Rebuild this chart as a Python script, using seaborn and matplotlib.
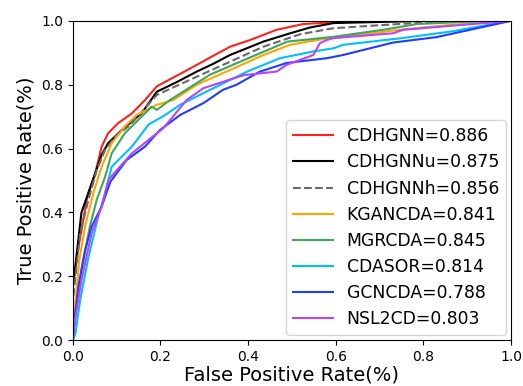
import numpy as np
import pandas as pd
import matplotlib
matplotlib.use("Agg")
import matplotlib.pyplot as plt
import seaborn as sns

# ROC curves (FPR, TPR)
labels = ["CDHGNN=0.886", "CDHGNNu=0.875", "CDHGNNh=0.856", "KGANCDA=0.841",
          "MGRCDA=0.845", "CDASOR=0.814", "GCNCDA=0.788", "NSL2CD=0.803"]

fpr_cdhgnn = [0, 0, .013, .032, .051, .066, .081, .104, .135, .165, .192, .24, .283, .32, .359, .405, .465, .526, .587, .65, 1.0]
tpr_cdhgnn = [0, .167, .29, .44, .52, .606, .648, .68, .71, .752, .795, .83, .862, .89, .919, .94, .972, .99, .995, 1.0, 1.0]

fpr_cdhgnnu = [0, 0, .02, .043, .066, .081, .112, .157, .192, .24, .283, .32, .359, .435, .496, .541, .595, .746, .8, 1]
tpr_cdhgnnu = [0, .16, .40, .49, .58, .617, .658, .71, .778, .81, .841, .865, .893, .935, .961, .979, .993, .998, 1, 1]

fpr_cdhgnnh = [0, 0, .017, .036, .055, .074, .097, .131, .192, .283, .359, .435, .519, .595, .709, .823, .9, 1]
tpr_cdhgnnh = [0, .12, .334, .44, .533, .596, .637, .674, .768, .825, .872, .919, .958, .977, .987, .997, 1, 1]

fpr_kgancda = [0, .005, .015, .028, .047, .066, .089, .119, .146, .192, .23, .283, .359, .435, .496, .557, .595, .746, .86, 1]
tpr_kgancda = [0, .1, .25, .355, .46, .543, .617, .669, .705, .737, .752, .80, .846, .893, .925, .94, .946, .972, .987, 1]

fpr_mgrcda = [0, .005, .02, .039, .055, .074, .089, .119, .161, .18, .192, .222, .313, .382, .49, .526, .595, .709, .785, .95, 1]
tpr_mgrcda = [0, .08, .22, .355, .44, .512, .585, .648, .705, .731, .721, .752, .831, .872, .935, .94, .95, .972, .99, 1, 1]

fpr_cdasor = [0, .006, .017, .036, .058, .074, .089, .097, .135, .173, .211, .245, .321, .398, .473, .549, .595, .617, .746, .86, 1]
tpr_cdasor = [0, .02, .125, .26, .386, .46, .543, .554, .606, .675, .705, .737, .789, .841, .883, .904, .914, .925, .945, .966, 1]

fpr_gcncda = [0, .002, .013, .028, .043, .066, .086, .123, .165, .199, .245, .298, .343, .374, .427, .488, .58, .617, .693, .731, .83, 1]
tpr_gcncda = [0, .03, .167, .28, .355, .418, .496, .564, .606, .658, .705, .742, .784, .80, .841, .868, .883, .893, .919, .932, .949, 1]

fpr_nsl2cd = [0, .005, .02, .043, .066, .081, .094, .135, .173, .207, .26, .298, .39, .465, .488, .549, .564, .58, .595, .731, .754, 1]
tpr_nsl2cd = [0, .06, .188, .334, .418, .50, .522, .585, .627, .664, .752, .789, .83, .841, .862, .893, .93, .94, .946, .961, .972, 1]

curves = [
    (fpr_cdhgnn, tpr_cdhgnn, "#ff2020", "-"),
    (fpr_cdhgnnu, tpr_cdhgnnu, "black", "-"),
    (fpr_cdhgnnh, tpr_cdhgnnh, "dimgray", "--"),
    (fpr_kgancda, tpr_kgancda, "orange", "-"),
    (fpr_mgrcda, tpr_mgrcda, "#3fa55f", "-"),
    (fpr_cdasor, tpr_cdasor, "deepskyblue", "-"),
    (fpr_gcncda, tpr_gcncda, "#1f3cff", "-"),
    (fpr_nsl2cd, tpr_nsl2cd, "#b844ff", "-"),
]

fig = plt.figure(figsize=(5.23, 3.86), dpi=100)
ax = fig.add_axes([0.139, 0.119, 0.838, 0.827])

for (fx, ty, color, ls), label in zip(curves, labels):
    df = pd.DataFrame({"fpr": fx, "tpr": ty})
    sns.lineplot(data=df, x="fpr", y="tpr", sort=False, estimator=None,
                 color=color, linestyle=ls, linewidth=1.5, label=label, ax=ax)

ax.set_xlim(0, 1)
ax.set_ylim(0, 1)
ax.set_xticks(np.arange(0, 1.01, 0.2))
ax.set_yticks(np.arange(0, 1.01, 0.2))
ax.tick_params(labelsize=10)
ax.set_xlabel("False Positive Rate(%)", fontsize=14, labelpad=1)
ax.set_ylabel("True Positive Rate(%)", fontsize=14)
ax.legend(loc="lower right", fontsize=12.4, borderaxespad=0.3,
          handlelength=2.3, labelspacing=0.47)

fig.savefig("out.png", dpi=100)
